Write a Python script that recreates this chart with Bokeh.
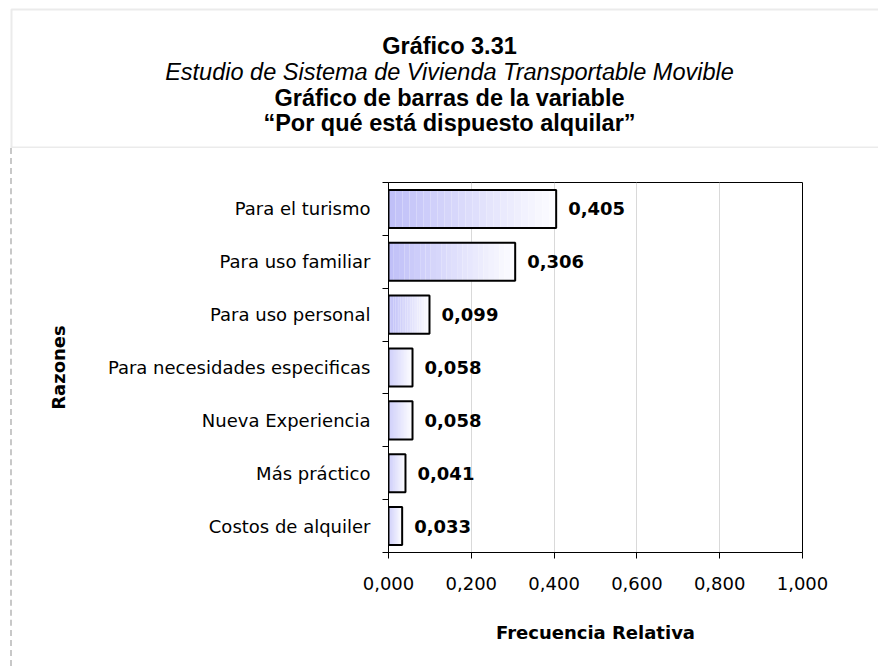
from bokeh.plotting import figure
from bokeh.models import Range1d, FixedTicker, Label, BoxAnnotation, ColumnDataSource, Div
from bokeh.layouts import column, row
from bokeh.core.properties import value
from bokeh.embed import file_html
from bokeh.resources import INLINE

# ---- data ----
categories = ["Para el turismo", "Para uso familiar", "Para uso personal",
              "Para necesidades especificas", "Nueva Experiencia",
              "Más práctico", "Costos de alquiler"]
frecuencia = [0.405, 0.306, 0.099, 0.058, 0.058, 0.041, 0.033]
value_labels = ["0,405", "0,306", "0,099", "0,058", "0,058", "0,041", "0,033"]
x_ticks = [0.0, 0.2, 0.4, 0.6, 0.8, 1.0]
x_tick_labels = ["0,000", "0,200", "0,400", "0,600", "0,800", "1,000"]
title_lines = ["Gráfico 3.31",
               "Estudio de Sistema de Vivienda Transportable Movible",
               "Gráfico de barras de la variable",
               "“Por qué está dispuesto alquilar”"]

n = len(categories)
ypos = [n - i - 0.5 for i in range(n)]
bounds = list(range(n + 1))

TOTAL_W = 878
HEAD_H = 148
MAIN_H = 518
STRIP_W = 16

# ---------- header ----------
head = figure(width=TOTAL_W, height=HEAD_H, output_backend="svg", toolbar_location=None,
              x_axis_type=None, y_axis_type=None, min_border=0,
              x_range=Range1d(0, TOTAL_W), y_range=Range1d(0, HEAD_H))
head.outline_line_color = None
head.grid.visible = False
head.add_layout(BoxAnnotation(left=11, right=TOTAL_W + 20, top=139, bottom=1,
                              left_units="screen", right_units="screen",
                              top_units="screen", bottom_units="screen",
                              fill_alpha=0, line_color="#bdbdbd", line_width=2))
baselines = [103, 77, 51, 26]
styles = ["bold", "italic", "bold", "bold"]
for txt, b, st in zip(title_lines, baselines, styles):
    head.add_layout(Label(x=449, y=b, x_units="screen", y_units="screen", text=txt,
                          text_align="center", text_baseline="alphabetic",
                          text_font="Liberation Sans", text_font_size="23.5px",
                          text_font_style=st, text_color="black"))

# ---------- left dashed border ----------
strip = Div(text='<div style="margin-left:10px;width:0;height:%dpx;'
                 'border-left:2px dashed #c8c8c8"></div>' % MAIN_H,
            width=STRIP_W, height=MAIN_H, margin=0)

# ---------- main chart ----------
p = figure(width=TOTAL_W - STRIP_W, height=MAIN_H, output_backend="svg", toolbar_location=None,
           x_range=Range1d(0, 1), y_range=Range1d(0, n),
           min_border_left=372, min_border_right=76,
           min_border_top=34, min_border_bottom=114)
p.background_fill_color = "white"
p.border_fill_color = "white"
p.outline_line_color = "black"
p.outline_line_width = 1

# gradient-like bars (strips from lavender to white)
N = 24
c0 = (192, 192, 248)
c1 = (252, 252, 255)
sl, sr, sy, sc = [], [], [], []
for v, y in zip(frecuencia, ypos):
    for k in range(N):
        t = k / (N - 1)
        col = "#%02x%02x%02x" % tuple(int(round(a + (b - a) * t)) for a, b in zip(c0, c1))
        sl.append(v * k / N)
        sr.append(v * (k + 1) / N)
        sy.append(y)
        sc.append(col)
p.hbar(y=sy, left=sl, right=sr, height=0.72, fill_color=sc, line_color=None)
p.hbar(y=ypos, left=0, right=frecuencia, height=0.72, fill_color=None,
       line_color="black", line_width=2)

src = ColumnDataSource(dict(x=frecuencia, y=ypos, t=value_labels))
p.text(x="x", y="y", text="t", source=src, x_offset=12, text_baseline="middle",
       text_font=value("DejaVu Sans"), text_font_size="18px",
       text_font_style="bold", text_color="black")

xa = p.xaxis[0]
xa.ticker = FixedTicker(ticks=x_ticks)
xa.major_label_overrides = dict(zip(x_ticks, x_tick_labels))
xa.major_tick_out = 6
xa.major_tick_in = 0
xa.minor_tick_out = 0
xa.minor_tick_in = 0
xa.major_label_standoff = 18
xa.major_label_text_font = "DejaVu Sans"
xa.major_label_text_font_size = "18px"
xa.major_label_text_color = "black"
xa.axis_label = "Frecuencia Relativa"
xa.axis_label_text_font = "DejaVu Sans"
xa.axis_label_text_font_size = "18px"
xa.axis_label_text_font_style = "bold"
xa.axis_label_text_color = "black"
xa.axis_label_standoff = 29
xa.axis_line_color = "black"
xa.major_tick_line_color = "black"

ya = p.yaxis[0]
ya.ticker = FixedTicker(ticks=ypos, minor_ticks=bounds)
ya.major_label_overrides = dict(zip(ypos, categories))
ya.major_tick_out = 0
ya.major_tick_in = 0
ya.minor_tick_out = 6
ya.minor_tick_in = 0
ya.minor_tick_line_color = "black"
ya.major_label_standoff = 12
ya.major_label_text_font = "DejaVu Sans"
ya.major_label_text_font_size = "18px"
ya.major_label_text_color = "black"
ya.axis_label = "Razones"
ya.axis_label_text_font = "DejaVu Sans"
ya.axis_label_text_font_size = "18px"
ya.axis_label_text_font_style = "bold"
ya.axis_label_text_color = "black"
ya.axis_label_standoff = 36
ya.axis_line_color = "black"

p.xgrid.ticker = FixedTicker(ticks=x_ticks)
p.xgrid.grid_line_color = "#d9d9d9"
p.ygrid.grid_line_color = None

layout = column(head, row(strip, p, spacing=0), spacing=0)
open("out.html", "w").write(file_html(layout, INLINE))
